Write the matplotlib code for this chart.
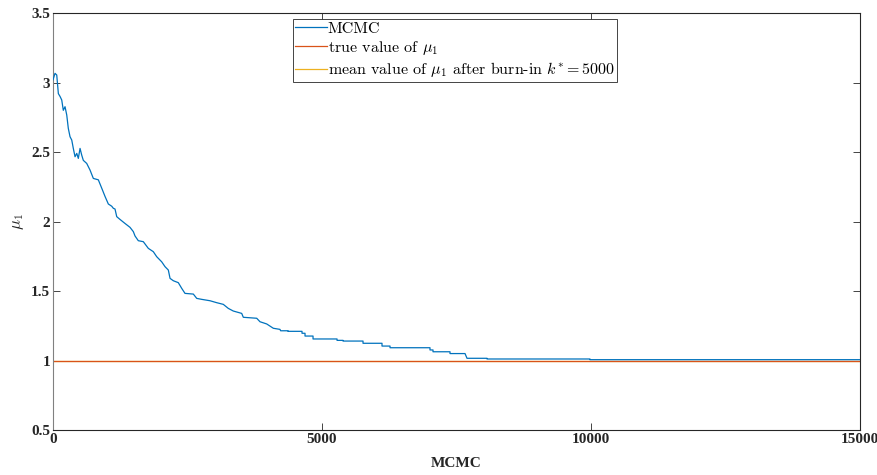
import numpy as np
import matplotlib
matplotlib.use("Agg")
import matplotlib.pyplot as plt
from matplotlib.ticker import FormatStrFormatter

plt.rcParams['mathtext.fontset'] = 'cm'

# MCMC trace breakpoints (iteration, mu_1)
iters = [0, 37, 69, 99, 130, 162, 191, 223, 255, 284, 316, 348, 377, 409, 441,
         470, 502, 533, 563, 626, 688, 749, 842, 905, 967, 1028, 1091, 1121,
         1152, 1184, 1245, 1338, 1431, 1493, 1524, 1585, 1678, 1771, 1864,
         1927, 2020, 2082, 2143, 2175, 2236, 2329, 2392, 2453, 2608, 2671,
         2764, 2918, 3043, 3165, 3258, 3351, 3507, 3537, 3786, 3847, 3972,
         4095, 4219, 4230, 4368, 4368, 4628, 4628, 4684, 4684, 4833, 4833,
         5279, 5279, 5390, 5390, 5762, 5762, 6115, 6115, 6264, 6264, 7007,
         7007, 7063, 7063, 7379, 7379, 7658, 7695, 8067, 8067, 9981, 9981,
         15000]
mu1 = [3.02, 3.066, 3.054, 2.92, 2.90, 2.874, 2.80, 2.826, 2.766, 2.67, 2.61,
       2.586, 2.526, 2.466, 2.49, 2.454, 2.526, 2.478, 2.44, 2.418, 2.37,
       2.31, 2.30, 2.24, 2.18, 2.126, 2.11, 2.095, 2.09, 2.035, 2.015, 1.986,
       1.958, 1.927, 1.896, 1.862, 1.855, 1.807, 1.783, 1.747, 1.71, 1.675,
       1.651, 1.591, 1.574, 1.56, 1.519, 1.483, 1.478, 1.447, 1.44, 1.43,
       1.416, 1.404, 1.375, 1.356, 1.339, 1.311, 1.304, 1.279, 1.263,
       1.232, 1.224, 1.214, 1.214, 1.21, 1.21, 1.196, 1.196, 1.176, 1.176,
       1.155, 1.155, 1.145, 1.145, 1.14, 1.14, 1.124, 1.124, 1.104, 1.104,
       1.092, 1.092, 1.076, 1.076, 1.063, 1.063, 1.05, 1.05, 1.016, 1.016,
       1.011, 1.011, 1.006, 1.006]
true_mu1 = 1.0
mean_mu1 = 0.998
n_iter = 15000

fig = plt.figure(figsize=(8.78, 4.75), dpi=100)
ax = fig.add_axes([0.0604, 0.0947, 0.9191, 0.8779])

ax.plot(iters, mu1, color='#0072BD', lw=0.9, label='MCMC', zorder=3)
ax.plot([0, n_iter], [true_mu1, true_mu1], color='#D95319', lw=0.9,
        label=r'true value of $\mu_1$', zorder=2.5)
ax.plot([0, n_iter], [mean_mu1, mean_mu1], color='#EDB120', lw=0.9,
        label=r'mean value of $\mu_1$ after burn-in $k^{*}=5000$', zorder=2)

ax.set_xlim(0, n_iter)
ax.set_ylim(0.5, 3.5)
ax.set_xticks([0, 5000, 10000, 15000])
ax.set_yticks(np.arange(0.5, 3.51, 0.5))
ax.yaxis.set_major_formatter(FormatStrFormatter('%g'))
ax.tick_params(direction='in', length=5, width=0.6, top=True, right=True,
               colors='#262626', pad=2)
for lab in ax.get_xticklabels() + ax.get_yticklabels():
    lab.set_fontfamily('Liberation Serif')
    lab.set_fontweight('bold')
    lab.set_fontsize(11)
    lab.set_color('#262626')
for s in ax.spines.values():
    s.set_color('#262626')
    s.set_linewidth(0.8)
ax.spines['left'].set_color('#808080')

ax.set_xlabel('MCMC', family='Liberation Serif', fontweight='bold',
              fontsize=11, color='#262626', labelpad=8)
ax.set_ylabel(r'$\mu_1$', fontsize=12, color='#262626', labelpad=4)

leg = ax.legend(loc='upper left', bbox_to_anchor=(0.297, 0.985),
                prop={'family': 'cmr10', 'size': 11.5}, fancybox=False,
                framealpha=1, edgecolor='#262626', handlelength=2.0,
                handletextpad=0.05, borderpad=0.15, labelspacing=0.2,
                borderaxespad=0)
leg.get_frame().set_linewidth(0.6)

fig.savefig('out.png', dpi=100)
